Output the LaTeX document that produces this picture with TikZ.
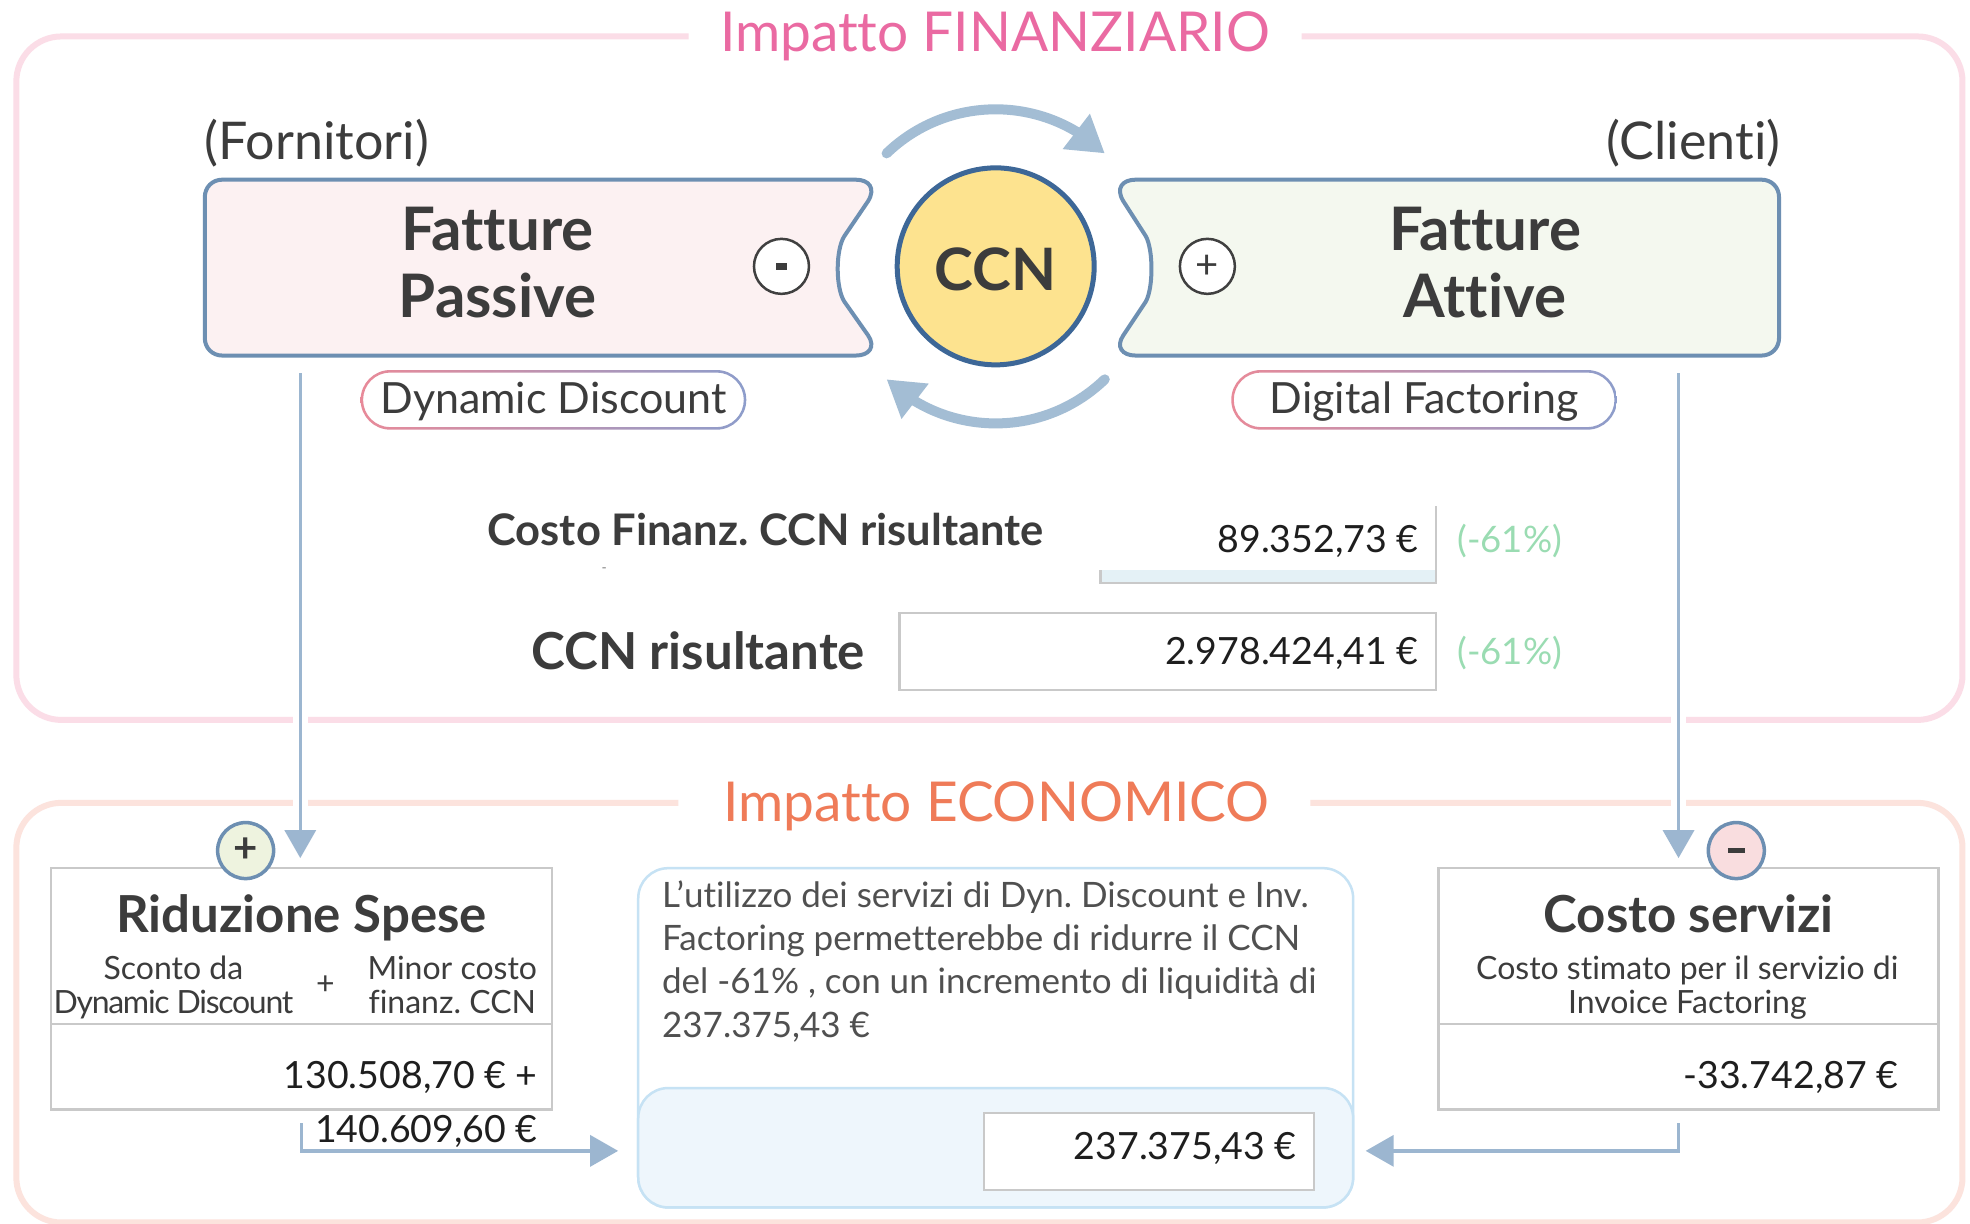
\documentclass[tikz,border=0pt]{standalone}
\usepackage{fontspec}
\setmainfont{Lato}[Ligatures=NoCommon]
\frenchspacing
\usetikzlibrary{arrows.meta,bending,calc}
\definecolor{pinkframe}{HTML}{FBDDE7}
\definecolor{salmonframe}{HTML}{FCE3DD}
\definecolor{titlepink}{HTML}{EA6AA2}
\definecolor{titleorange}{HTML}{EF7B58}
\definecolor{boxblue}{HTML}{6D8FB2}
\definecolor{ccnblue}{HTML}{3D6797}
\definecolor{ccnyellow}{HTML}{FDE38F}
\definecolor{passfill}{HTML}{FCF1F2}
\definecolor{attfill}{HTML}{F4F8EF}
\definecolor{arcblue}{HTML}{A3BDD4}
\definecolor{linkblue}{HTML}{9CB6D0}
\definecolor{greyline}{HTML}{C9C9C9}
\definecolor{txt}{HTML}{3C3C3C}
\definecolor{numc}{HTML}{1E1E1E}
\definecolor{pctc}{HTML}{9ADCB2}
\definecolor{centerline}{HTML}{C6E2F4}
\definecolor{centerfill}{HTML}{EEF6FC}
\definecolor{barfill}{HTML}{E4F1F6}
\definecolor{plusfill}{HTML}{EEF3DF}
\definecolor{minusfill}{HTML}{F9DDDF}
\definecolor{pillpink}{HTML}{E88A99}
\definecolor{pillblue}{HTML}{8D9DCB}
\definecolor{signline}{HTML}{404040}
\newcommand{\myfs}[2]{\fontsize{#1}{#2}\selectfont}
\newcommand{\twol}[2]{\begin{tabular}[t]{@{}c@{}}#1\\#2\end{tabular}}
\begin{document}
\begin{tikzpicture}[x=1.2564pt,y=-1.2564pt,
  every node/.style={inner sep=0pt, outer sep=0pt},
  frame/.style={line width=6pt, rounded corners=45pt},
  fbox/.style={draw=boxblue, line width=4pt},
  greybox/.style={draw=greyline, line width=2.5pt},
  titletext/.style={font=\myfs{55}{64}},
  sidetext/.style={font=\myfs{52}{60}, text=txt},
  bigbold/.style={font=\myfs{60}{67}\bfseries, text=txt},
  pilltext/.style={font=\myfs{43}{50}, text=txt},
  numtext/.style={font=\myfs{37.5}{44}, text=numc},
  pcttext/.style={font=\myfs{36.5}{44}, text=pctc},
  boxtitle/.style={font=\myfs{51}{60}\bfseries, text=txt},
  subtext/.style={font=\myfs{32}{33}, text=txt},
  paratext/.style={font=\myfs{35}{43.3}, text=txt!90!white},
  signc/.style={circle, draw=signline, line width=2.5pt, fill=white, minimum size=55pt, text=txt},
  signb/.style={circle, draw=boxblue, line width=3.5pt, minimum size=56pt, text=txt},
  arcarrow/.style={draw=arcblue, line width=10pt, line cap=round, -{Triangle[length=36pt,width=42pt]}},
  link/.style={draw=linkblue, line width=3.5pt, -{Triangle[length=28pt,width=31pt]}},
  halo/.style={draw=white, line width=15pt}
]
\useasboundingbox (0,0) rectangle (1568,974);
\fill[white] (0,0) rectangle (1568,974);

% frames
\draw[frame, draw=pinkframe] (548,29) -- (13,29) -- (13,573) -- (1562,573) -- (1562,29) -- (1036,29);
\draw[frame, draw=salmonframe] (540,639) -- (13,639) -- (13,973) -- (1562,973) -- (1562,639) -- (1043,639);
\node[titletext, text=titlepink, anchor=base] (tfin) at (792,41) {Impatto FINANZIARIO};
\node[titletext, text=titleorange, anchor=base] (teco) at (793,654) {Impatto ECONOMICO};

% halos for vertical connectors
\draw[halo] (239,300) -- (239,660);
\draw[halo] (1336,300) -- (1336,660);

% side labels
\node[sidetext, anchor=base west] (forn) at (163,127) {(Fornitori)};
\node[sidetext, anchor=base east] (cli) at (1417,127) {(Clienti)};

% Fatture Passive
\draw[fbox, fill=passfill]
 (177,143) -- (681,143) .. controls (692,143) and (697,150) .. (691,160)
 -- (672,188) .. controls (665,199) and (665,229) .. (672,240)
 -- (691,267) .. controls (697,276) and (692,283) .. (681,283)
 -- (177,283) .. controls (169,283) and (163,277) .. (163,269)
 -- (163,157) .. controls (163,149) and (169,143) .. (177,143) -- cycle;
\node[bigbold, anchor=base] (fp) at (396,199) {\twol{Fatture}{Passive}};
\node[signc] (sminus) at (622,212) {\rule[-3.5pt]{11pt}{7pt}};

% Fatture Attive
\draw[fbox, fill=attfill]
 (904,143) -- (1402,143) .. controls (1410,143) and (1416,149) .. (1416,157)
 -- (1416,269) .. controls (1416,277) and (1410,283) .. (1402,283)
 -- (904,283) .. controls (893,283) and (888,276) .. (894,267)
 -- (912,240) .. controls (918,229) and (918,199) .. (912,188)
 -- (894,160) .. controls (888,150) and (893,143) .. (904,143) -- cycle;
\node[bigbold, anchor=base] (fa) at (1182,199) {\twol{Fatture}{Attive}};
\node[signc, font=\myfs{40}{40}] (splus) at (961,212) {+};

% CCN
\node[circle, draw=ccnblue, line width=5pt, fill=ccnyellow, minimum size=197pt] (ccn) at (792.5,212) {};
\node[font=\myfs{58.5}{60}\bfseries, text=txt, anchor=base] (ccnt) at (792.5,231) {CCN};
\draw[arcarrow] ($(ccn.center)+(-134:125)$) arc[start angle=-134, end angle=-46, radius=125];
\draw[arcarrow] ($(ccn.center)+(46:125)$) arc[start angle=46, end angle=134, radius=125];

% pills
\path[left color=pillpink, right color=pillblue, even odd rule]
  [rounded corners=29.8pt] (287,294.5) rectangle (594,342)
  [rounded corners=27.3pt] (289,296.5) rectangle (592,340);
\node[pilltext, anchor=base] (ddt) at (440.5,329) {Dynamic Discount};
\path[left color=pillpink, right color=pillblue, even odd rule]
  [rounded corners=29.8pt] (980,294.5) rectangle (1287,342)
  [rounded corners=27.3pt] (982,296.5) rectangle (1285,340);
\node[pilltext, anchor=base] (dft) at (1133.5,329) {Digital Factoring};

% Costo Finanz
\node[font=\myfs{43.5}{50}\bfseries, text=txt, anchor=base west] (cfl) at (388,434) {Costo Finanz. CCN risultante};
\node[font=\myfs{14}{14}, text=gray, anchor=center] (tdash) at (481,454) {-};
\fill[barfill] (876,454) rectangle (1143,464);
\draw[greybox] (876,454) -- (876,464) -- (1143,464) -- (1143,403);
\node[numtext, anchor=base east] (v1) at (1129,440) {89.352,73 €};
\node[pcttext, anchor=base west] (p1) at (1160,440) {(-61\%)};

% CCN risultante
\node[font=\myfs{51}{58}\bfseries, text=txt, anchor=base west] (ccnl) at (423,533) {CCN risultante};
\draw[greybox, fill=white] (716,488) rectangle (1143,549);
\node[numtext, anchor=base east] (v2) at (1129,529) {2.978.424,41 €};
\node[pcttext, anchor=base west] (p2) at (1160,529) {(-61\%)};

% Riduzione Spese
\draw[greybox, fill=white] (40.5,691) rectangle (439.5,883);
\draw[greybox] (40.5,815) -- (439.5,815);
\node[signb, fill=plusfill, font=\myfs{42}{42}\bfseries] (eplus) at (195.5,677) {+};
\node[boxtitle, anchor=base] (ridt) at (240,742) {Riduzione Spese};
\node[subtext, anchor=base] (sconto) at (138,780) {\twol{Sconto da}{\addfontfeatures{LetterSpace=-4}Dynamic Discount}};
\node[subtext] (subplus) at (259,784) {+};
\node[subtext, anchor=base] (minor) at (360,780) {\twol{Minor costo}{finanz. CCN}};
\node[numtext, anchor=base east] (v3) at (428,866) {130.508,70 € +};
\node[numtext, anchor=base east] (v4) at (428,909) {140.609,60 €};

% centre box
\draw[draw=centerline, line width=2.5pt, fill=white, rounded corners=30pt] (508,691) rectangle (1077,961);
\draw[draw=centerline, line width=2.5pt, fill=centerfill, rounded corners=30pt] (508,866) rectangle (1077,961);
\node[paratext, anchor=base west] (para) at (527,722) {\begin{tabular}[t]{@{}l@{}}L'utilizzo dei servizi di Dyn. Discount e Inv.\\Factoring permetterebbe di ridurre il CCN\\del -61\% , con un incremento di liquidità di\\237.375,43 €\end{tabular}};
\draw[greybox, fill=white] (783,886) rectangle (1046,947);
\node[numtext, anchor=base east] (v5) at (1032,923) {237.375,43 €};

% Costo servizi
\draw[greybox, fill=white] (1145,691) rectangle (1543,883);
\draw[greybox] (1145,815) -- (1543,815);
\node[signb, fill=minusfill] (eminus) at (1382,677) {\rule[-2.5pt]{17pt}{5pt}};
\node[boxtitle, anchor=base] (cst) at (1344,742) {Costo servizi};
\node[subtext, anchor=base] (csub) at (1343,780) {\twol{Costo stimato per il servizio di}{Invoice Factoring}};
\node[numtext, anchor=base east] (v6) at (1511,866) {-33.742,87 €};

% connectors
\coordinate (la) at (239,297);
\coordinate (lb) at (239,683);
\coordinate (ra) at (1336,297);
\coordinate (rb) at (1336,683);
\draw[link] (la) -- (lb);
\draw[link] (ra) -- (rb);
\coordinate (l1) at (240,894);
\coordinate (l2) at (240,916);
\coordinate (l3) at (492,916);
\draw[link] (l1) -- (l2) -- (l3);
\coordinate (r1) at (1336,894);
\coordinate (r2) at (1336,916);
\coordinate (r3) at (1087,916);
\draw[link] (r1) -- (r2) -- (r3);
\end{tikzpicture}
\end{document}
